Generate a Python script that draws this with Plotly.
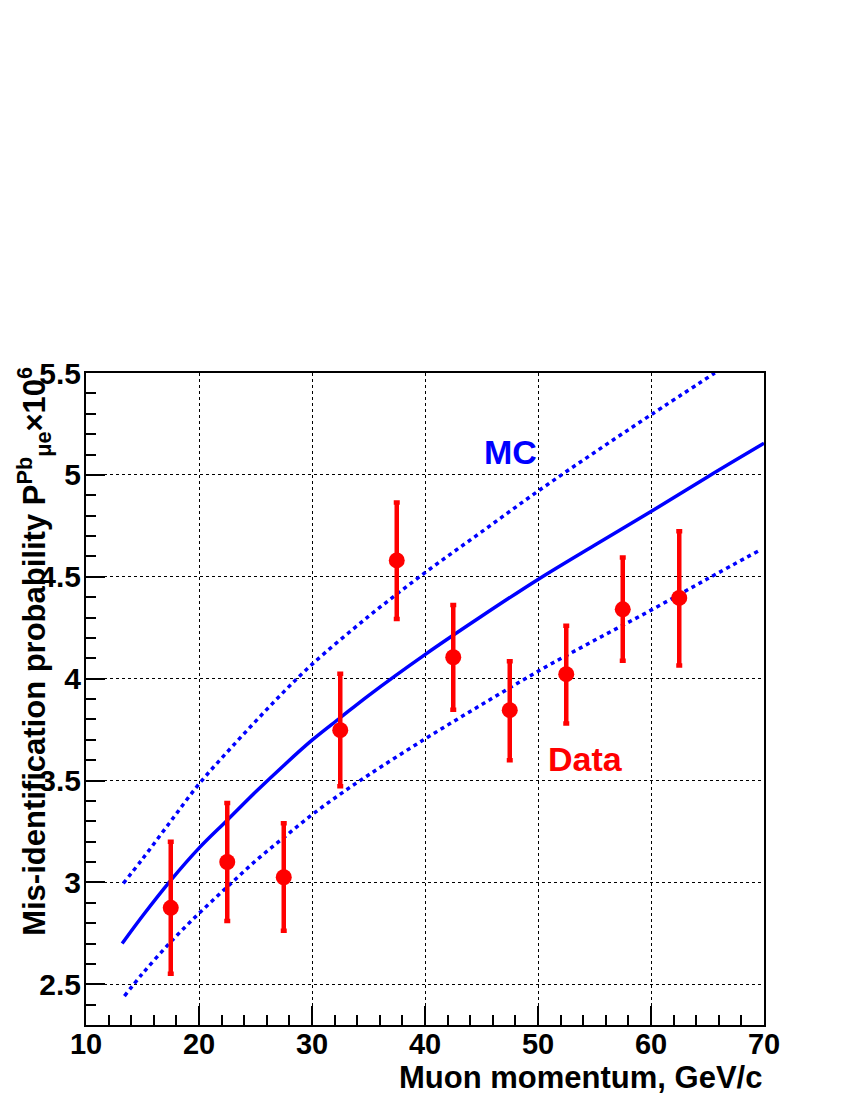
import plotly.graph_objects as go

# ── Data ──
p_data = [17.5, 22.5, 27.5, 32.5, 37.5, 42.5, 47.5, 52.5, 57.5, 62.5]
prob_data = [2.875, 3.10, 3.025, 3.747, 4.580, 4.105, 3.845, 4.022, 4.340, 4.396]
err_up = [0.324, 0.29, 0.265, 0.277, 0.285, 0.256, 0.240, 0.237, 0.255, 0.327]
err_dn = [0.323, 0.29, 0.262, 0.275, 0.287, 0.258, 0.245, 0.242, 0.252, 0.332]

mc_x = [13.2, 15, 17.5, 20, 22.5, 25, 27.5, 30, 32.5, 35, 40, 45, 50, 55, 60, 65, 70]
mc_y = [2.70, 2.835, 3.01, 3.168, 3.305, 3.443, 3.574, 3.698, 3.808, 3.917,
        4.118, 4.306, 4.487, 4.655, 4.82, 4.99, 5.155]

mc_hi_x = [13.3, 15, 17.5, 20, 22.5, 25, 27.5, 30, 35, 40, 45, 50, 55, 60, 65.65]
mc_hi_y = [2.995, 3.115, 3.30, 3.483, 3.64, 3.79, 3.935, 4.07, 4.305, 4.52, 4.72,
           4.92, 5.11, 5.295, 5.50]

mc_lo_x = [13.4, 15, 17.5, 20, 22.5, 25, 27.5, 30, 32.5, 35, 40, 45, 50, 55, 60,
           65, 69.55]
mc_lo_y = [2.442, 2.552, 2.708, 2.848, 2.978, 3.105, 3.22, 3.332, 3.433, 3.527,
           3.704, 3.872, 4.036, 4.188, 4.336, 4.49, 4.628]

x_ticks = [10, 20, 30, 40, 50, 60, 70]
y_ticks = [2.5, 3, 3.5, 4, 4.5, 5, 5.5]

BLUE = "#0000ff"
RED = "#ff0000"
FONT = "Liberation Sans, Arial, Helvetica, sans-serif"

fig = go.Figure()

fig.add_trace(go.Scatter(
    x=mc_x, y=mc_y, mode="lines", line_shape="spline",
    line=dict(color=BLUE, width=3.5), showlegend=False,
))
for xs, ys in ((mc_hi_x, mc_hi_y), (mc_lo_x, mc_lo_y)):
    fig.add_trace(go.Scatter(
        x=xs, y=ys, mode="lines", line_shape="spline",
        line=dict(color=BLUE, width=3.5, dash="4px,4px"), showlegend=False,
    ))

fig.add_trace(go.Scatter(
    x=p_data, y=prob_data, mode="markers",
    marker=dict(color=RED, size=16),
    error_y=dict(type="data", symmetric=False, array=err_up, arrayminus=err_dn,
                 color=RED, thickness=4.5, width=3),
    showlegend=False,
))

# ── Labels ──
fig.add_annotation(x=45, y=5.11, xref="x", yref="y", text="MC", showarrow=False,
                   xanchor="left", yanchor="middle",
                   font=dict(family=FONT, size=34, color=BLUE, weight="bold"))
fig.add_annotation(x=50.7, y=3.605, xref="x", yref="y", text="Data", showarrow=False,
                   xanchor="left", yanchor="middle",
                   font=dict(family=FONT, size=34, color=RED, weight="bold"))
fig.add_annotation(x=1.0, y=-0.08, xref="paper", yref="paper",
                   text="Muon momentum, GeV/c", showarrow=False,
                   xanchor="right", yanchor="middle",
                   font=dict(family=FONT, size=31, color="black", weight="bold"))
fig.add_annotation(x=-0.077, y=1.013, xref="paper", yref="paper",
                   text="Mis-identification probability P<sup>Pb</sup><sub>μe</sub>×10<sup>6</sup>",
                   textangle=-90, showarrow=False,
                   xanchor="center", yanchor="top",
                   font=dict(family=FONT, size=31, color="black", weight="bold"))

axis_common = dict(
    showline=True, linecolor="black", linewidth=2, mirror=True,
    ticks="inside", ticklen=19, tickwidth=1.5, tickcolor="black",
    showgrid=True, gridcolor="black", gridwidth=1, griddash="dot",
    zeroline=False,
)

fig.update_xaxes(
    range=[10, 70], tickvals=x_ticks, ticklabelstandoff=-8,
    tickfont=dict(family=FONT, size=29, color="black", weight="bold"),
    minor=dict(dtick=2, ticks="inside", ticklen=10, tickwidth=1.5,
               tickcolor="black", showgrid=False),
    **axis_common,
)
fig.update_yaxes(
    range=[2.3, 5.5], tickvals=y_ticks, ticktext=[f"{v:g}" for v in y_ticks],
    ticklabelstandoff=-3,
    tickfont=dict(family=FONT, size=30, color="black", weight="bold"),
    minor=dict(dtick=0.1, ticks="inside", ticklen=10, tickwidth=1.5,
               tickcolor="black", showgrid=False),
    **axis_common,
)

# page body adds an 8px offset, so margins are shifted to keep the frame in place
fig.update_layout(
    width=850, height=1100,
    margin=dict(l=78, r=94, t=365, b=83),
    plot_bgcolor="white", paper_bgcolor="white",
    font=dict(family=FONT, color="black"),
)

fig.write_html("out.html")
